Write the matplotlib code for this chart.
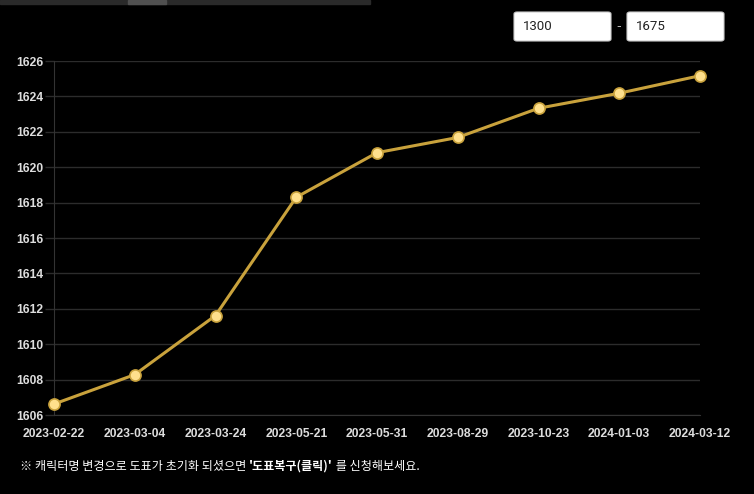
import matplotlib
matplotlib.use('Agg')
import matplotlib.pyplot as plt
from matplotlib.patches import FancyBboxPatch, Rectangle

# data
dates = ['2023-02-22', '2023-03-04', '2023-03-24', '2023-05-21', '2023-05-31',
         '2023-08-29', '2023-10-23', '2024-01-03', '2024-03-12']
values = [1606.62, 1608.28, 1611.62, 1618.30, 1620.82, 1621.68, 1623.33, 1624.18, 1625.17]
yticks = [1606, 1608, 1610, 1612, 1614, 1616, 1618, 1620, 1622, 1624, 1626]
range_low = '1300'
range_high = '1675'
note_parts = ['※ 캐릭터명 변경으로 도표가 초기화 되셨으면 ', "'도표복구(클릭)'", ' 를 신청해보세요.']

plt.rcParams['font.family'] = ['Liberation Sans', 'Noto Sans CJK KR', 'DejaVu Sans']

W, H = 754, 494
fig = plt.figure(figsize=(W / 100, H / 100), dpi=100, facecolor='black')
ax = fig.add_axes([54 / W, 1 - 415 / H, (700 - 54) / W, (415 - 61) / H])
ax.set_facecolor('black')

x = list(range(len(dates)))
ax.plot(x, values, color='#c9a23c', lw=2.2, marker='o', ms=8,
        mfc='#ffe08c', mec='#c9a23c', mew=1.2, zorder=3, clip_on=False)

ax.set_xlim(0, len(dates) - 1)
ax.set_ylim(1606, 1626)
ax.set_yticks(yticks)
ax.set_xticks(x)
ax.set_xticklabels(dates)
ax.grid(axis='y', color='#2c2c2c', lw=1)
ax.set_axisbelow(True)
for s in ['top', 'right']:
    ax.spines[s].set_visible(False)
ax.spines['left'].set_color('#333333')
ax.spines['bottom'].set_color('#333333')
ax.tick_params(axis='y', length=6.5, width=1, color='#2c2c2c', pad=1,
               labelsize=8.7, labelcolor='#dddddd')
ax.tick_params(axis='x', length=0, pad=9, labelsize=8.7, labelcolor='#dddddd')
for lab in ax.get_xticklabels() + ax.get_yticklabels():
    lab.set_fontweight('bold')

# top scroll bar remnant
fig.patches.append(Rectangle((0, 1 - 4 / H), 370 / W, 4 / H, transform=fig.transFigure,
                             color='#2a2a2a', zorder=0))
fig.patches.append(Rectangle((128 / W, 1 - 4 / H), 38 / W, 4 / H, transform=fig.transFigure,
                             color='#505050', zorder=1))

# range input boxes
for x0, txt in [(514, range_low), (627, range_high)]:
    fig.patches.append(FancyBboxPatch((x0 / W, 1 - 41 / H), 97 / W, 29 / H,
                                      boxstyle='round,pad=0,rounding_size=0.004',
                                      transform=fig.transFigure, fc='white', ec='#cccccc', lw=0.8))
    fig.text((x0 + 9) / W, 1 - 27 / H, txt, color='#222222', fontsize=9.5,
             family=['Roboto', 'DejaVu Sans'], va='center', ha='left')
fig.text(619 / W, 1 - 26 / H, '-', color='#bbbbbb', fontsize=10, ha='center', va='center')

# footnote with a bold part
fig.canvas.draw()
r = fig.canvas.get_renderer()
xpos = 20 / W
for i, part in enumerate(note_parts):
    t = fig.text(xpos, 1 - 466 / H, part, color='white', fontsize=8.7, va='center', ha='left',
                 family=['Noto Sans CJK KR', 'DejaVu Sans'],
                 fontweight='bold' if i == 1 else 'normal')
    bb = t.get_window_extent(renderer=r)
    xpos += bb.width / W

fig.savefig('out.png', dpi=100, facecolor='black')
